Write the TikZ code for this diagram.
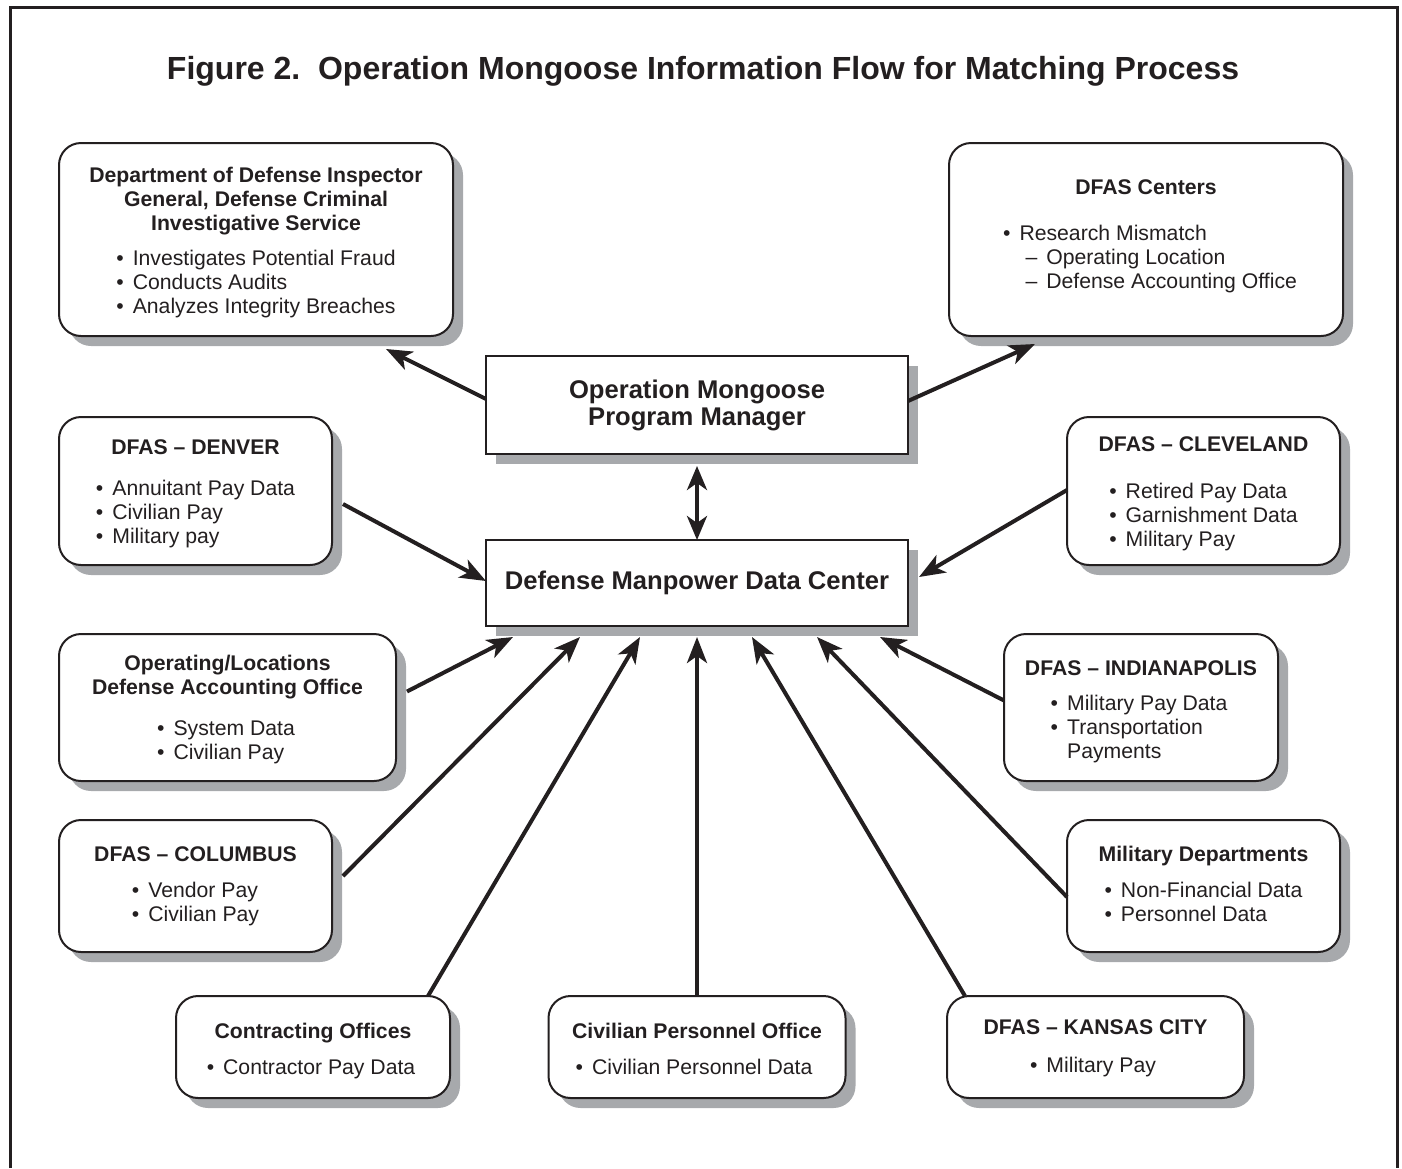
\documentclass[tikz,border=0pt]{standalone}
\usepackage{fontspec}
\setmainfont{Liberation Sans}
\usetikzlibrary{calc,shadows,arrows.meta}
\definecolor{ink}{HTML}{231F20}
\definecolor{shade}{HTML}{A7A9AC}
\newcommand{\bitems}[1]{\begin{tabular}{@{}l@{\hspace{4.5pt}}l@{}}#1\end{tabular}}
\newcommand{\hlines}[1]{\begin{tabular}{@{}c@{}}#1\end{tabular}}
\newcommand{\bu}{\textbullet}
\newcommand{\dashitem}[1]{\hspace{3pt}\textendash\hspace{4.5pt}#1}
\begin{document}
\begin{tikzpicture}[x=0.5pt,y=-0.5pt,
  every node/.style={inner sep=0pt, outer sep=0pt, text=ink},
  boxshadow/.style={general shadow={fill=shade, shadow xshift=5pt, shadow yshift=-5pt}},
  card/.style={draw=ink, line width=1pt, fill=white, rounded corners=11pt, boxshadow},
  panel/.style={draw=ink, line width=1pt, fill=white, boxshadow},
  txt/.style={anchor=north, font=\fontsize{10.6}{12}\selectfont},
  head/.style={anchor=north, font=\fontsize{10.6}{12}\selectfont\bfseries},
  flow/.style={draw=ink, line width=2pt, -{Stealth[length=13pt, width=10pt, inset=3.5pt]}},
  both/.style={draw=ink, line width=2pt, {Stealth[length=12pt, width=10pt, inset=3.5pt]}-{Stealth[length=12pt, width=10pt, inset=3.5pt]}},
]
\useasboundingbox (0,0) rectangle (1402,1168);

% outer frame, open at the bottom
\draw[ink, line width=1.5pt] (10,1168) -- (10,7) -- (1397,7) -- (1397,1168);

% title
\node[anchor=base, font=\fontsize{16}{19}\selectfont\bfseries] (title) at (703,79)
  {Figure 2.\ \ Operation Mongoose Information Flow for Matching Process};

% central boxes
\node[panel, minimum width=211pt, minimum height=49pt, align=center,
      font=\fontsize{12.8}{13.5}\selectfont\bfseries] (ompm) at (697,405)
  {Operation Mongoose\\Program Manager};
\node[panel, minimum width=211pt, minimum height=43pt,
      font=\fontsize{12.8}{13.5}\selectfont\bfseries] (dmdc) at (697,583)
  {Defense Manpower Data Center};

% outer boxes
\node[card, minimum width=197pt, minimum height=96.5pt] (ig) at (256,239.5) {};
\node[card, minimum width=197pt, minimum height=96.5pt] (ctr) at (1146,239.5) {};
\node[card, minimum width=136.5pt, minimum height=74pt] (den) at (195.5,491) {};
\node[card, minimum width=136.5pt, minimum height=74pt] (cle) at (1203.5,491) {};
\node[card, minimum width=168.5pt, minimum height=73.5pt] (opl) at (227.5,707.5) {};
\node[card, minimum width=137pt, minimum height=73.5pt] (ind) at (1141,707.5) {};
\node[card, minimum width=136.5pt, minimum height=66pt] (col) at (195.5,886) {};
\node[card, minimum width=136.5pt, minimum height=66pt] (mil) at (1203.5,886) {};
\node[card, minimum width=137pt, minimum height=51pt] (con) at (313,1047) {};
\node[card, minimum width=148.5pt, minimum height=51pt] (civ) at (697,1047) {};
\node[card, minimum width=148.5pt, minimum height=51pt] (kc) at (1095.5,1047) {};

% box texts
\node[head] (igh) at (256,165.2) {\hlines{Department of Defense Inspector\\General, Defense Criminal\\Investigative Service}};
\node[txt] (igl) at (256,248.2) {\bitems{\bu & Investigates Potential Fraud\\ \bu & Conducts Audits\\ \bu & Analyzes Integrity Breaches}};

\node[head] (ctrh) at (1146,177.2) {\hlines{DFAS Centers}};
\node[txt] (ctrl) at (1150,223.2) {\bitems{\bu & Research Mismatch\\ & \dashitem{Operating Location}\\ & \dashitem{Defense Accounting Office}}};

\node[head] (denh) at (195.5,437.2) {\hlines{DFAS \textendash\ DENVER}};
\node[txt] (denl) at (195.5,478.2) {\bitems{\bu & Annuitant Pay Data\\ \bu & Civilian Pay\\ \bu & Military pay}};

\node[head] (cleh) at (1203.5,434.2) {\hlines{DFAS \textendash\ CLEVELAND}};
\node[txt] (clel) at (1203.5,481.2) {\bitems{\bu & Retired Pay Data\\ \bu & Garnishment Data\\ \bu & Military Pay}};

\node[head] (oplh) at (227.5,653.2) {\hlines{Operating/Locations\\Defense Accounting Office}};
\node[txt] (opll) at (226,718.2) {\bitems{\bu & System Data\\ \bu & Civilian Pay}};

\node[head] (indh) at (1141,658.2) {\hlines{DFAS \textendash\ INDIANAPOLIS}};
\node[txt] (indl) at (1139,693.2) {\bitems{\bu & Military Pay Data\\ \bu & Transportation\\ & Payments}};

\node[head] (colh) at (195.5,844.2) {\hlines{DFAS \textendash\ COLUMBUS}};
\node[txt] (coll) at (195.5,880.2) {\bitems{\bu & Vendor Pay\\ \bu & Civilian Pay}};

\node[head] (milh) at (1203.5,844.2) {\hlines{Military Departments}};
\node[txt] (mill) at (1203.5,880.2) {\bitems{\bu & Non-Financial Data\\ \bu & Personnel Data}};

\node[head] (conh) at (313,1021.2) {\hlines{Contracting Offices}};
\node[txt] (conl) at (311,1057.2) {\bitems{\bu & Contractor Pay Data}};

\node[head] (civh) at (697,1021.2) {\hlines{Civilian Personnel Office}};
\node[txt] (civl) at (694,1057.2) {\bitems{\bu & Civilian Personnel Data}};

\node[head] (kch) at (1095.5,1017.2) {\hlines{DFAS \textendash\ KANSAS CITY}};
\node[txt] (kcl) at (1093,1055.2) {\bitems{\bu & Military Pay}};

% connectors
\draw[flow] ($(ompm.west)+(0,-6)$) -- ($(ig.south east)+(-67,13)$);
\draw[flow] ($(ompm.east)+(0,-4)$) -- ($(ctr.south west)+(86,8)$);
\draw[both] ($(ompm.south)+(0,12)$) -- (dmdc.north);

\draw[flow] ($(den.east)+(11,13)$) -- ($(dmdc.west)+(0,-2)$);
\draw[flow] ($(cle.west)+(0,-1)$) -- ($(dmdc.east)+(11,-6)$);
\draw[flow] ($(opl.east)+(11,-16)$) -- ($(dmdc.south west)+(27,11)$);
\draw[flow] ($(col.east)+(11,-10)$) -- ($(dmdc.south west)+(94,11)$);
\draw[flow] ($(con.north east)+(-22,0)$) -- ($(dmdc.south west)+(154,11)$);
\draw[flow] (civ.north) -- ($(dmdc.south)+(0,11)$);
\draw[flow] ($(kc.north west)+(18,0)$) -- ($(dmdc.south)+(55,11)$);
\draw[flow] ($(mil.west)+(0,11)$) -- ($(dmdc.south)+(120,11)$);
\draw[flow] ($(ind.west)+(0,-7)$) -- ($(dmdc.south)+(183,11)$);
\end{tikzpicture}
\end{document}
